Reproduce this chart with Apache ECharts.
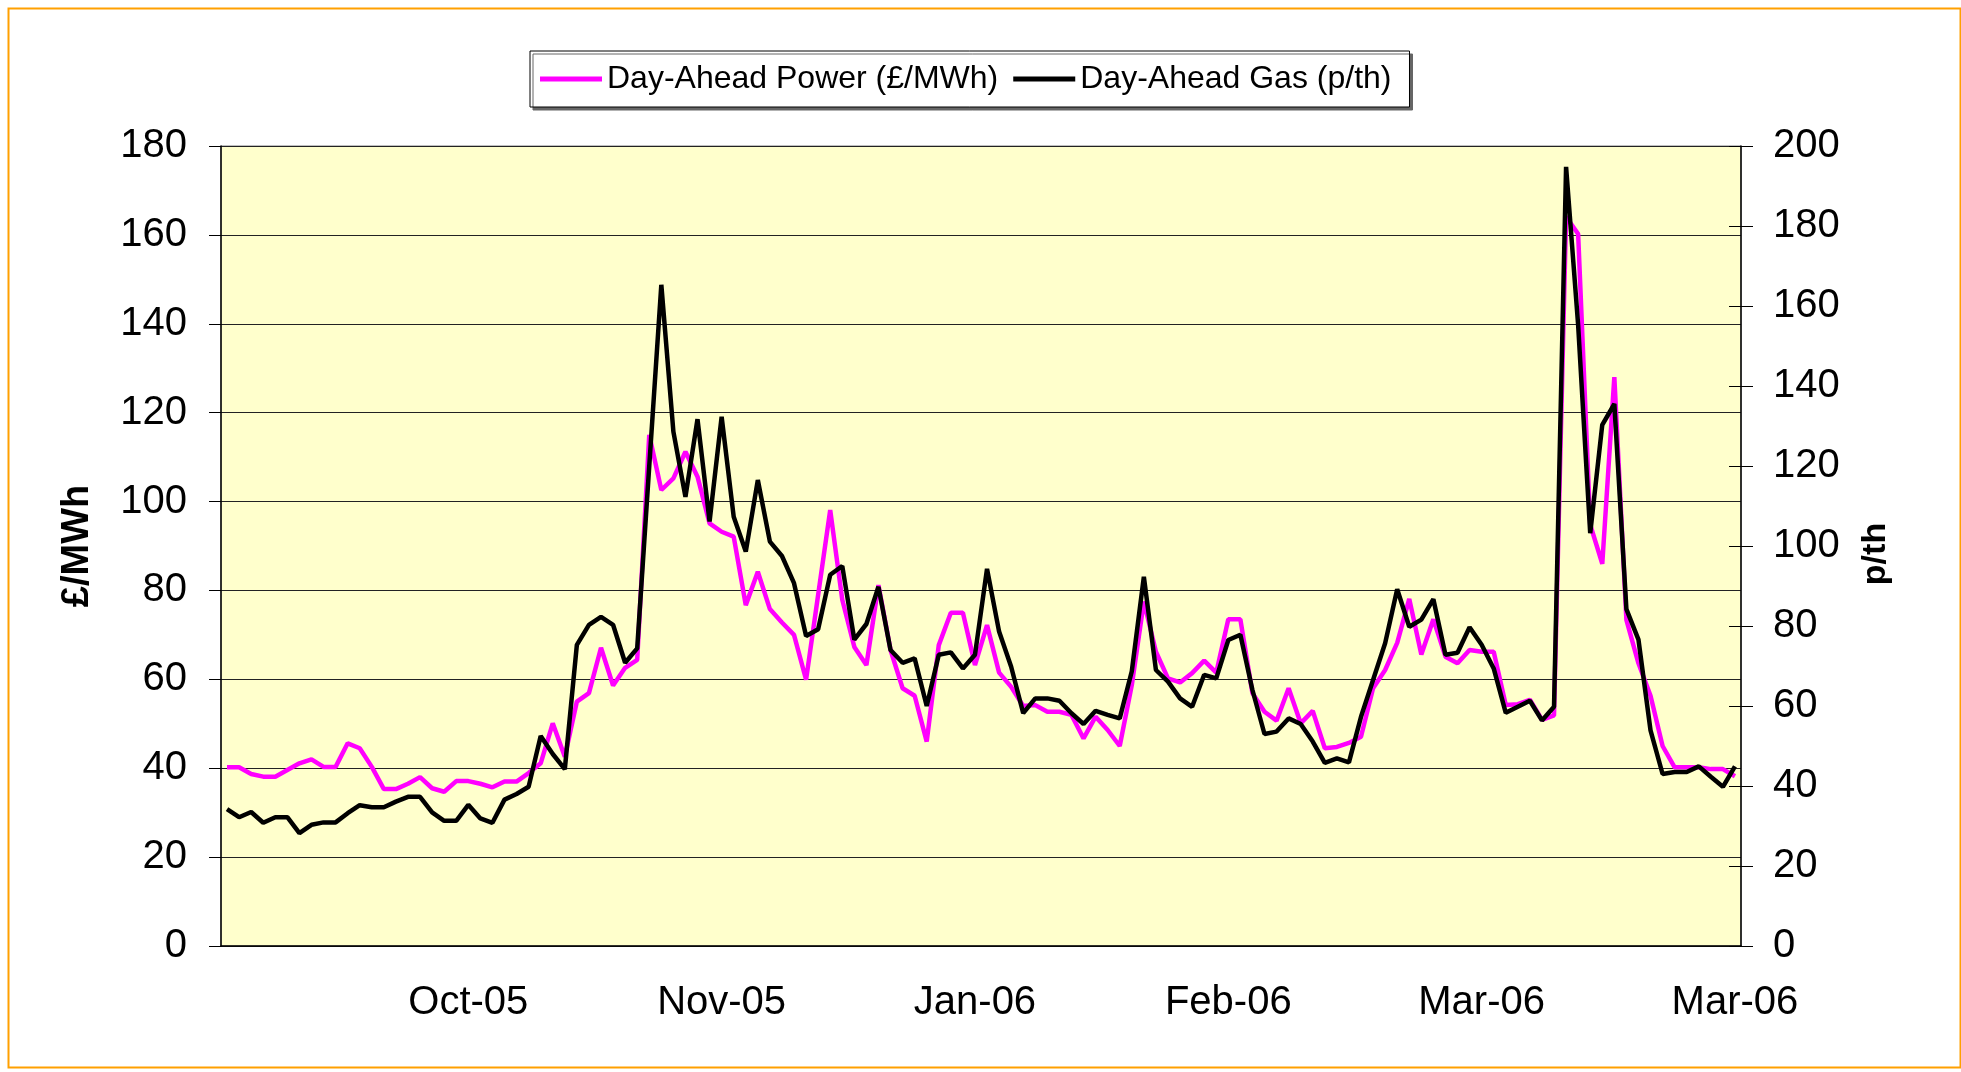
<!DOCTYPE html>
<html>
<head>
<meta charset="utf-8">
<script src="https://cdn.jsdelivr.net/npm/echarts@6/dist/echarts.min.js"></script>
<style>
html,body{margin:0;padding:0;background:#fff;}
#chart{width:1961px;height:1072px;}
</style>
</head>
<body>
<div id="chart"></div>
<script>
// Day-Ahead Power (£/MWh), left axis
const power = [
  40.2, 40.2, 38.7, 38.1, 38.1, 39.6, 41.1, 42.0, 40.3, 40.3,
  45.6, 44.5, 40.3, 35.3, 35.3, 36.5, 38.0, 35.5, 34.7, 37.1,
  37.1, 36.5, 35.7, 37.0, 37.0, 38.9, 41.1, 50.1, 42.6, 55.0,
  56.9, 67.1, 58.6, 62.6, 64.4, 115.0, 102.6, 105.2, 111.2, 105.6,
  95.1, 93.2, 92.1, 76.7, 84.2, 75.8, 72.8, 70.0, 59.9, 79.0,
  98.1, 77.9, 67.3, 63.2, 81.2, 66.6, 58.0, 56.3, 46.0, 67.7,
  75.0, 75.0, 63.2, 72.2, 61.5, 58.3, 54.0, 54.2, 52.7, 52.7,
  52.0, 46.7, 51.6, 48.6, 45.0, 58.7, 77.5, 66.2, 60.2, 59.3,
  61.4, 64.2, 61.5, 73.5, 73.5, 56.9, 52.7, 50.7, 58.0, 50.1,
  52.9, 44.5, 44.8, 45.7, 47.1, 58.0, 62.1, 68.2, 78.1, 65.6,
  73.5, 65.1, 63.6, 66.6, 66.2, 66.2, 54.2, 54.4, 55.4, 50.9,
  51.9, 164.1, 160.2, 94.8, 86.0, 128.0, 73.4, 63.6, 56.3, 45.0,
  40.2, 40.2, 40.2, 39.8, 39.8, 38.2
];
// Day-Ahead Gas (p/th), right axis
const gas = [
  34.2, 32.2, 33.5, 30.8, 32.2, 32.2, 28.2, 30.3, 30.9, 30.9,
  33.2, 35.2, 34.7, 34.7, 36.1, 37.3, 37.3, 33.4, 31.3, 31.3,
  35.3, 31.9, 30.8, 36.6, 38.0, 39.8, 52.5, 48.0, 44.2, 75.3,
  80.3, 82.3, 80.3, 70.8, 74.4, 120.0, 165.3, 128.6, 112.3, 131.7,
  106.1, 132.3, 107.3, 98.6, 116.5, 101.1, 97.5, 90.7, 77.5, 79.2,
  92.8, 95.0, 76.6, 80.5, 89.8, 74.0, 70.8, 71.9, 60.0, 72.8,
  73.4, 69.4, 72.8, 94.3, 78.6, 69.8, 58.2, 61.9, 61.9, 61.3,
  58.2, 55.5, 58.8, 57.8, 56.9, 68.7, 92.3, 69.0, 66.1, 61.9,
  59.8, 67.8, 66.9, 76.5, 77.8, 64.0, 53.0, 53.6, 56.9, 55.5,
  51.1, 45.8, 46.9, 45.9, 57.3, 66.5, 75.7, 89.2, 79.8, 81.6,
  86.7, 72.8, 73.3, 79.7, 75.3, 69.4, 58.3, 59.8, 61.3, 56.4,
  59.8, 194.8, 155.2, 103.2, 130.3, 135.5, 84.2, 76.6, 53.9, 43.0,
  43.5, 43.5, 44.9, 42.3, 39.8, 44.9
];
// x-axis tick labels (one every 21 points)
const tickLabels = ['Oct-05', 'Nov-05', 'Jan-06', 'Feb-06', 'Mar-06', 'Mar-06'];
const labelStep = 21;
const categories = power.map((_, i) => 'p' + i);

const FONT = "'Liberation Sans', Arial, sans-serif";
const chart = echarts.init(document.getElementById('chart'), null, {renderer: 'canvas'});
chart.setOption({
  backgroundColor: '#ffffff',
  animation: false,
  graphic: [{
    type: 'rect', left: 6, top: 6, silent: true,
    shape: {x: 0, y: 0, width: 1952, height: 1059},
    style: {fill: 'none', stroke: '#FFA000', lineWidth: 2}
  }],
  legend: {
    left: 530, top: 51,
    padding: [12, 18, 12, 10],
    itemGap: 15,
    itemWidth: 62, itemHeight: 5,
    icon: 'rect',
    backgroundColor: '#ffffff',
    borderColor: '#000000', borderWidth: 1,
    shadowColor: '#666666', shadowOffsetX: 3, shadowOffsetY: 3, shadowBlur: 0,
    textStyle: {fontFamily: FONT, fontSize: 32, color: '#000'},
    data: ['Day-Ahead Power (£/MWh)', 'Day-Ahead Gas (p/th)']
  },
  grid: {
    left: 221, right: 220, top: 146, bottom: 126,
    show: true, backgroundColor: '#FFFFCC', borderColor: '#808080', borderWidth: 1
  },
  xAxis: {
    type: 'category', data: categories, boundaryGap: true,
    axisLine: {lineStyle: {color: '#000', width: 1.5}},
    axisTick: {interval: (i) => i % labelStep === 0, length: 12, lineStyle: {color: '#000', width: 1}},
    axisLabel: {
      interval: (i) => i % labelStep === labelStep - 1,
      formatter: (v, i) => tickLabels[Math.floor(i / labelStep)],
      fontFamily: FONT, fontSize: 40, color: '#000', margin: 37
    },
    splitLine: {show: false}
  },
  yAxis: [{
    type: 'value', position: 'left', min: 0, max: 180, interval: 20,
    name: '£/MWh', nameLocation: 'middle', nameGap: 124, nameRotate: 90,
    nameTextStyle: {fontFamily: FONT, fontSize: 38, fontWeight: 'bold', color: '#000'},
    axisLine: {show: true, lineStyle: {color: '#000', width: 1.5}},
    axisTick: {show: true, length: 12, lineStyle: {color: '#000'}},
    axisLabel: {fontFamily: FONT, fontSize: 40, color: '#000', margin: 34},
    splitLine: {show: true, lineStyle: {color: '#222', width: 1}}
  }, {
    type: 'value', position: 'right', min: 0, max: 200, interval: 20,
    name: 'p/th', nameLocation: 'middle', nameGap: 118, nameRotate: 90,
    nameTextStyle: {fontFamily: FONT, fontSize: 34, fontWeight: 'bold', color: '#000', padding: [0, 16, 0, 0]},
    axisLine: {show: true, lineStyle: {color: '#000', width: 1.5}},
    axisTick: {show: true, length: 12, lineStyle: {color: '#000'}},
    axisLabel: {fontFamily: FONT, fontSize: 40, color: '#000', margin: 32},
    splitLine: {show: false}
  }, {
    type: 'value', position: 'right', min: 0, max: 200, interval: 20,
    axisLine: {show: false},
    axisTick: {show: true, inside: true, length: 12, lineStyle: {color: '#000'}},
    axisLabel: {show: false},
    splitLine: {show: false}
  }],
  series: [{
    name: 'Day-Ahead Power (£/MWh)', type: 'line', yAxisIndex: 0,
    data: power, symbol: 'none', color: '#FF00FF',
    lineStyle: {color: '#FF00FF', width: 4.5}
  }, {
    name: 'Day-Ahead Gas (p/th)', type: 'line', yAxisIndex: 1,
    data: gas, symbol: 'none', color: '#000000',
    lineStyle: {color: '#000000', width: 4.5}
  }]
});
</script>
</body>
</html>
